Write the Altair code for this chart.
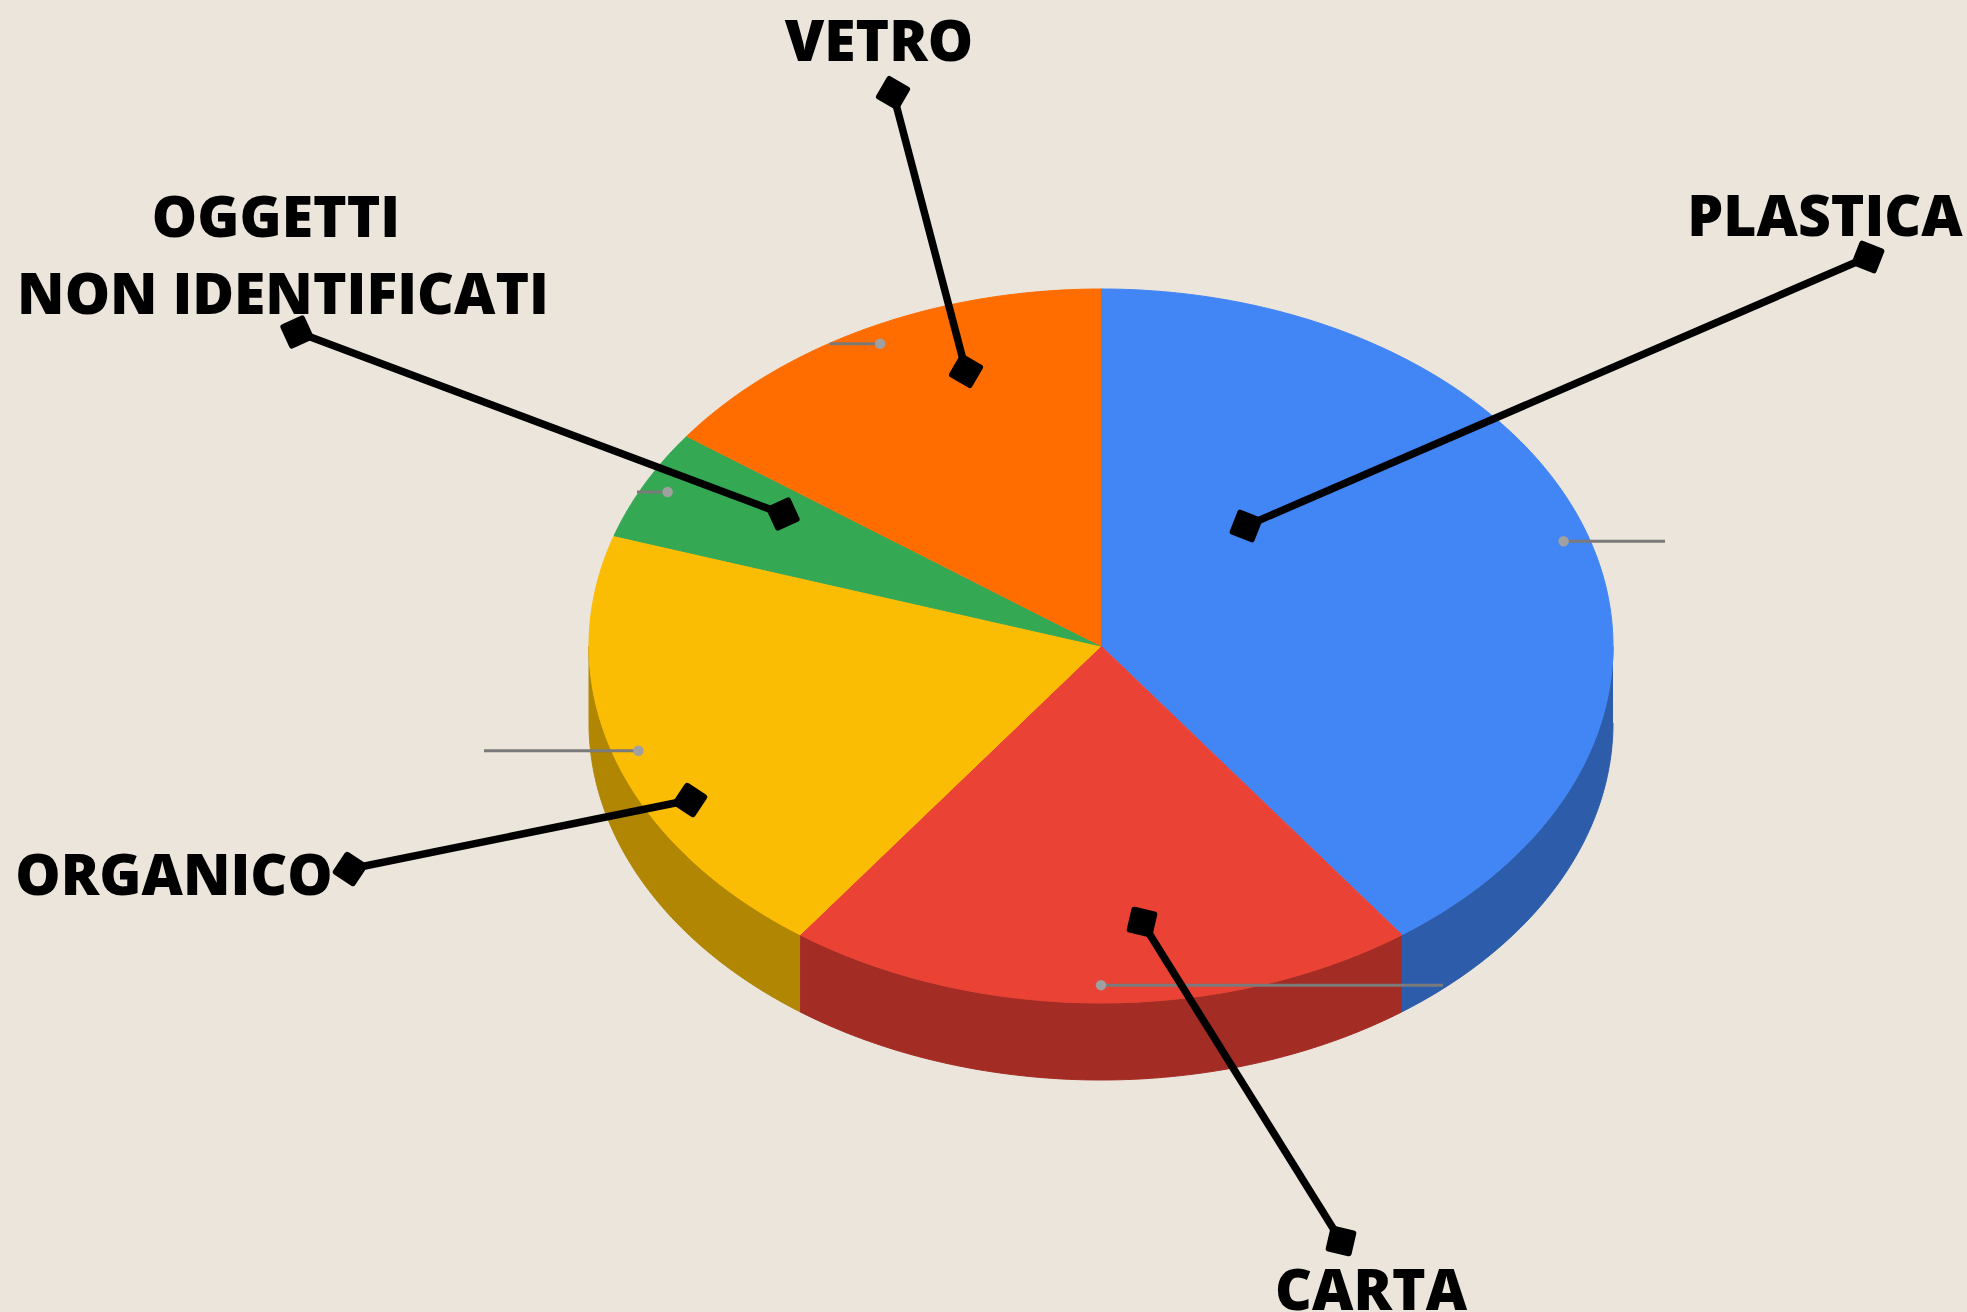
import math
import altair as alt
import pandas as pd

# ---------------- data ----------------
categories = ["PLASTICA", "CARTA", "ORGANICO", "OGGETTI NON IDENTIFICATI", "VETRO"]
values = [40, 20, 20, 5, 15]
top_colors = ["#4285F4", "#EA4335", "#FBBC04", "#34A853", "#FF6D01"]
side_colors = ["#2D5DAA", "#A32C25", "#B08603", "#247538", "#B34C00"]

# ---------------- layout (pixels) ----------------
W, H = 1967, 1312
CX, CY = 1101, 646
RX, RY = 512, 357
DEPTH = 77
LEADER_R = 0.95
leader_end_x = [1665, 1443, 484, 637, 830]

callouts = pd.DataFrame({
    "x1": [893, 297, 1868, 350, 1341],
    "y1": [93, 332, 257, 869, 1241],
    "x2": [966, 783, 1246, 690, 1142],
    "y2": [371, 514, 526, 800, 922],
})
label_text = ["VETRO", "OGGETTI", "NON IDENTIFICATI", "PLASTICA", "ORGANICO", "CARTA"]
label_x = [879, 276, 283, 1825, 174, 1371]
label_y = [61, 237, 314, 236, 895, 1310]


def pt(theta_deg, r=1.0, dy=0.0):
    t = math.radians(theta_deg)
    return CX + r * RX * math.sin(t), CY - r * RY * math.cos(t) + dy


def arc(a0, a1, dy=0.0):
    n = max(2, int(math.ceil(abs(a1 - a0) / 0.5)))
    return [pt(a0 + (a1 - a0) * k / n, 1.0, dy) for k in range(n + 1)]


total = float(sum(values))
top_rows, side_rows, dots = [], [], []
start = 0.0
for i, (cat, v) in enumerate(zip(categories, values)):
    s = 360.0 * start / total
    e = 360.0 * (start + v) / total
    start += v
    # top face
    pts = [(CX, CY)] + arc(s, e)
    for k, (x, y) in enumerate(pts):
        top_rows.append({"key": cat, "idx": k, "x": x, "y": y, "col": top_colors[i]})
    # visible side wall (front half of the ellipse)
    lo, hi = max(s, 90.0), min(e, 270.0)
    if hi > lo:
        spts = arc(lo, hi) + arc(hi, lo, DEPTH)
        for k, (x, y) in enumerate(spts):
            side_rows.append({"key": "side " + cat, "idx": k, "x": x, "y": y, "col": side_colors[i]})
    mid = (s + e) / 2
    dx, dyv = pt(mid, LEADER_R)
    dots.append({"x": dx, "y": dyv, "xe": leader_end_x[i]})

top_df = pd.DataFrame(top_rows)
side_df = pd.DataFrame(side_rows)
dot_df = pd.DataFrame(dots)

# marker rotation: diamond relative to the callout line
ang = []
for r in callouts.itertuples():
    a = math.degrees(math.atan2(r.y2 - r.y1, r.x2 - r.x1))
    ang.append((a + 45.0) % 90.0)
markers = pd.DataFrame({
    "x": list(callouts.x1) + list(callouts.x2),
    "y": list(callouts.y1) + list(callouts.y2),
    "angle": ang + ang,
})
labels = pd.DataFrame({"text": label_text, "x": label_x, "y": label_y})

xs = alt.Scale(domain=[0, W], nice=False, zero=False)
ys = alt.Scale(domain=[0, H], nice=False, zero=False, reverse=True)


def X(f):
    return alt.X(f, type="quantitative", scale=xs, axis=None)


def Y(f):
    return alt.Y(f, type="quantitative", scale=ys, axis=None)


sides = alt.Chart(side_df).mark_line(filled=True, strokeWidth=1).encode(
    x=X("x"), y=Y("y"),
    color=alt.Color("col:N", scale=None),
    stroke=alt.Stroke("col:N", scale=None),
    detail="key:N",
    order=alt.Order("idx:Q"),
)
tops = alt.Chart(top_df).mark_line(filled=True, strokeWidth=1).encode(
    x=X("x"), y=Y("y"),
    color=alt.Color("col:N", scale=None),
    stroke=alt.Stroke("col:N", scale=None),
    detail="key:N",
    order=alt.Order("idx:Q"),
)
leaders = alt.Chart(dot_df).mark_rule(color="#7A7A7A", strokeWidth=3).encode(
    x=X("x"), x2="xe:Q", y=Y("y")
)
leader_dots = alt.Chart(dot_df).mark_circle(color="#A0A0A0", size=110, opacity=1).encode(
    x=X("x"), y=Y("y")
)
call_lines = alt.Chart(callouts).mark_rule(color="black", strokeWidth=7.5).encode(
    x=X("x1"), y=Y("y1"), x2="x2:Q", y2="y2:Q"
)
call_marks = alt.Chart(markers).mark_point(
    shape="square", filled=True, size=420, color="black", opacity=1,
    stroke="black", strokeWidth=6, strokeJoin="round"
).encode(x=X("x"), y=Y("y"), angle=alt.Angle("angle:Q", scale=None))
texts = alt.Chart(labels).mark_text(
    font="Open Sans", fontWeight=800, fontSize=57, color="black",
    align="center", baseline="alphabetic"
).encode(x=X("x"), y=Y("y"), text="text:N")

chart = alt.layer(
    sides, tops, leaders, leader_dots, call_lines, call_marks, texts
).properties(
    width=W, height=H, padding=0, autosize="none", background="#EBE5DB"
).configure_view(stroke=None)

chart.save("out.html", embed_options={"renderer": "svg", "actions": False})
